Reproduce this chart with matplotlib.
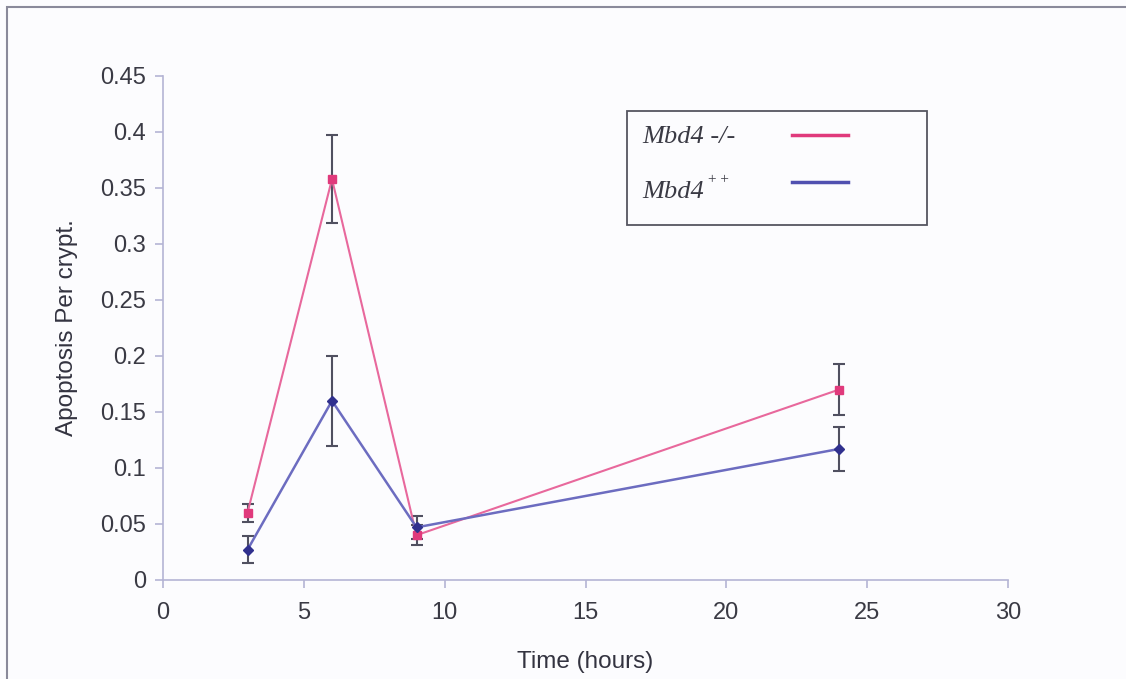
import matplotlib
matplotlib.use("Agg")

import matplotlib.pyplot as plt
from matplotlib.patches import Rectangle
from matplotlib.lines import Line2D

t = [3, 6, 9, 24]

ko = [0.060, 0.358, 0.040, 0.170]
ko_err = [0.008, 0.039, 0.009, 0.023]

wt = [0.027, 0.160, 0.047, 0.117]
wt_err = [0.012, 0.040, 0.010, 0.020]

xt = [0, 5, 10, 15, 20, 25, 30]
yt = [0, 0.05, 0.1, 0.15, 0.2, 0.25, 0.3, 0.35, 0.4, 0.45]
ytl = ["0", "0.05", "0.1", "0.15", "0.2", "0.25", "0.3", "0.35", "0.4", "0.45"]

plt.rcParams["font.family"] = ["Liberation Sans", "DejaVu Sans"]

W, H = 1126, 679
fig = plt.figure(figsize=(W / 100, H / 100), dpi=100)
fig.patch.set_facecolor("#fcfcfe")

# outer frame
fig.patches.append(Rectangle((7 / W, -0.01), 1.2, 1 - 7 / H + 0.01, transform=fig.transFigure,
                             fill=False, edgecolor="#8a8a9a", lw=1.5))

ax = fig.add_axes([163 / W, 1 - 580 / H, (1008 - 163) / W, (580 - 76) / H])
ax.set_facecolor("none")

ec = "#b4b4d4"
for s in ["top", "right"]:
    ax.spines[s].set_visible(False)
for s in ["left", "bottom"]:
    ax.spines[s].set_color(ec)
    ax.spines[s].set_linewidth(1.2)

ax.errorbar(t, ko, yerr=ko_err, color="#e8689c", lw=1.5, marker="s", ms=6,
            mfc="#e03a7c", mec="#e03a7c", ecolor="#505060", elinewidth=1.5, capsize=4, capthick=1.5, zorder=3)
ax.errorbar(t, wt, yerr=wt_err, color="#6c6cc0", lw=1.8, marker="D", ms=5,
            mfc="#30308e", mec="#30308e", ecolor="#505060", elinewidth=1.5, capsize=4, capthick=1.5, zorder=3)

ax.set_xlim(0, 30)
ax.set_ylim(0, 0.45)
ax.set_xticks(xt)
ax.set_yticks(yt)
ax.set_yticklabels(ytl)
ax.tick_params(colors=ec, labelcolor="#3a3a44", labelsize=17, length=6, width=1.2)
ax.tick_params(axis="x", pad=10)
ax.tick_params(axis="y", pad=6)

ax.set_xlabel("Time (hours)", fontsize=17.5, color="#333340", va="center")
ax.set_ylabel("Apoptosis Per crypt.", fontsize=17.5, color="#333340", labelpad=16)
ax.xaxis.set_label_coords(0.5, -(662 - 580) / 504)

# legend box
fig.patches.append(Rectangle((627 / W, 1 - 225 / H), 300 / W, 114 / H, transform=fig.transFigure,
                             fill=False, edgecolor="#555560", lw=1.3))
fig.text(642 / W, 1 - 137 / H, "Mbd4 -/-", family="Liberation Serif", style="italic",
         fontsize=19, color="#3a3a44", va="center")
fig.text(642 / W, 1 - 192 / H, "Mbd4", family="Liberation Serif", style="italic",
         fontsize=19, color="#3a3a44", va="center")
fig.text(708 / W, 1 - 180 / H, "+ +", family="Liberation Serif",
         fontsize=11, color="#3a3a44", va="center")
fig.lines.append(Line2D([792 / W, 848 / W], [1 - 135 / H, 1 - 135 / H], transform=fig.transFigure,
                        color="#e03a7c", lw=2.5))
fig.lines.append(Line2D([792 / W, 848 / W], [1 - 182 / H, 1 - 182 / H], transform=fig.transFigure,
                        color="#5050b0", lw=2.5))

plt.savefig("out.png", dpi=100, facecolor=fig.get_facecolor())
